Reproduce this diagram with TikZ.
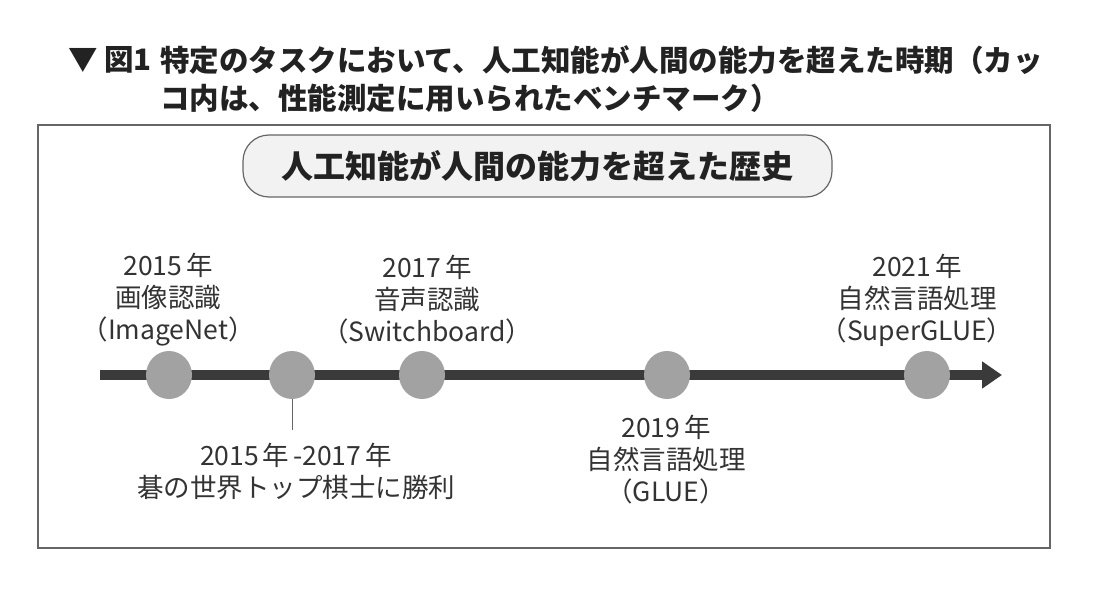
\documentclass[tikz,border=0pt]{standalone}
\usepackage{fontspec}
\newfontfamily\jp{Noto Sans CJK JP}
\usetikzlibrary{arrows.meta,shapes.geometric}
\definecolor{txt}{HTML}{333333}
\definecolor{hdrcol}{HTML}{222222}
\definecolor{dotgray}{HTML}{A2A2A2}
\definecolor{axiscol}{HTML}{3A3A3A}
\definecolor{framecol}{HTML}{666666}
\definecolor{boxfill}{HTML}{F2F2F2}
\newcommand{\nen}{\hspace{4pt}年}
\begin{document}
\begin{tikzpicture}[x=1pt,y=-1pt,
  hdr/.style={font=\jp\bfseries\fontsize{29.5}{36}\selectfont, text=hdrcol, inner sep=0pt, anchor=west},
  lbl/.style={font=\jp\fontsize{26.5}{32}\selectfont, text=txt, align=center, inner sep=0pt},
  dot/.style={ellipse, fill=dotgray, minimum width=46pt, minimum height=48pt, inner sep=0pt},
  frame/.style={draw=framecol, line width=1.2pt},
  titlebox/.style={draw=framecol, line width=1.2pt, fill=boxfill, rounded corners=26pt,
    minimum width=589pt, minimum height=62pt, inner sep=0pt,
    font=\jp\bfseries\fontsize{32}{38}\selectfont, text=hdrcol},
  axis/.style={draw=axiscol, line width=10pt, -{Triangle[length=20pt,width=26pt]}},
  tick/.style={draw=framecol, line width=1pt}]
\useasboundingbox[fill=white] (0,0) rectangle (1102,604);
\node[hdr] (h0) at (68,60) {▼ 図1};
\node[hdr] (h1) at (160,60) {特定のタスクにおいて、人工知能が人間の能力を超えた時期（カッ};
\node[hdr] (h2) at (160,98) {コ内は、性能測定に用いられたベンチマーク）};
\draw[frame] (38,125) rectangle (1050,548);
\node[titlebox] (tb) at (537.5,166) {人工知能が人間の能力を超えた歴史};
\coordinate (s) at (100,375);
\coordinate (e) at (1002,375);
\draw[axis] (s) -- (e);
\node[dot] (c1) at (169,375) {};
\node[dot] (c2) at (292,375) {};
\node[dot] (c3) at (422,375) {};
\node[dot] (c4) at (667,375) {};
\node[dot] (c5) at (927,375) {};
\node[lbl] (l1) at (168,300) {2015\nen\\画像認識\\（ImageNet）};
\node[lbl] (l3) at (427,300) {2017\nen\\音声認識\\（Switchboard）};
\node[lbl] (l5) at (917,300) {2021\nen\\自然言語処理\\（SuperGLUE）};
\node[lbl] (l4) at (666,460) {2019\nen\\自然言語処理\\（GLUE）};
\node[lbl] (l2) at (296,471) {2015\nen\hspace{4pt}-2017\nen\\碁の世界トップ棋士に勝利};
\coordinate (t2) at (292,430);
\draw[tick] (c2.south) -- (t2);
\end{tikzpicture}
\end{document}
